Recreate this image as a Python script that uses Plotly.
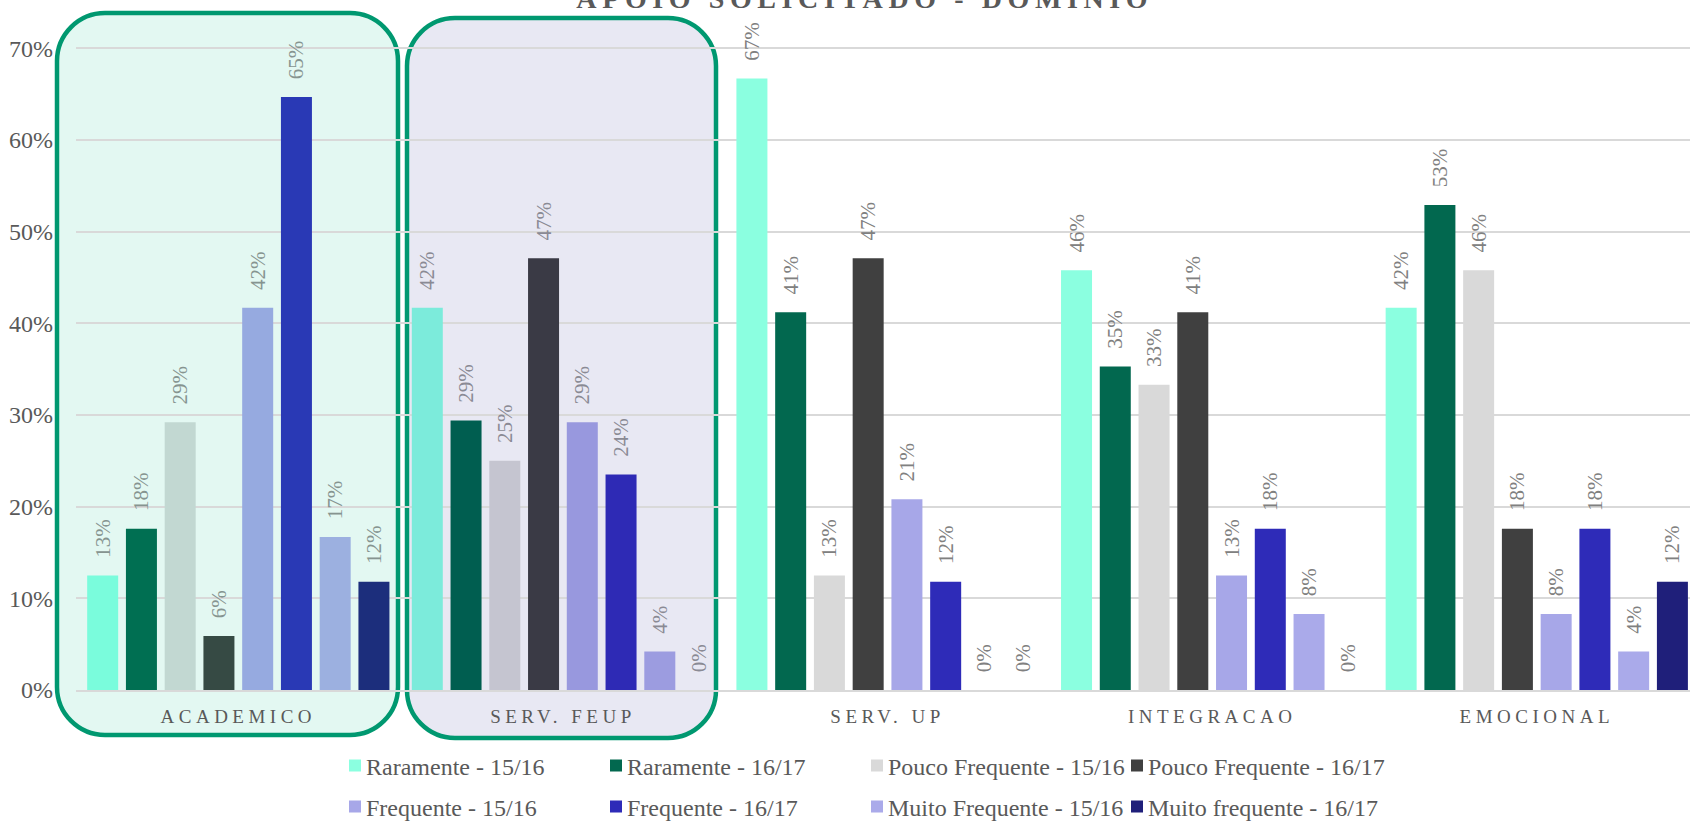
import plotly.graph_objects as go

categories = ["ACADEMICO", "SERV. FEUP", "SERV. UP", "INTEGRACAO", "EMOCIONAL"]
series_names = ["Raramente - 15/16", "Raramente - 16/17", "Pouco Frequente - 15/16", "Pouco Frequente - 16/17",
                "Frequente - 15/16", "Frequente - 16/17", "Muito Frequente - 15/16", "Muito frequente - 16/17"]

raramente_1516 = [0.125, 0.417, 0.667, 0.458, 0.417]
raramente_1617 = [0.176, 0.294, 0.412, 0.353, 0.529]
pouco_1516 = [0.292, 0.250, 0.125, 0.333, 0.458]
pouco_1617 = [0.059, 0.471, 0.471, 0.412, 0.176]
frequente_1516 = [0.417, 0.292, 0.208, 0.125, 0.083]
frequente_1617 = [0.647, 0.235, 0.118, 0.176, 0.176]
muito_1516 = [0.167, 0.042, 0.0, 0.083, 0.042]
muito_1617 = [0.118, 0.0, 0.0, 0.0, 0.118]

series_values = [raramente_1516, raramente_1617, pouco_1516, pouco_1617,
                 frequente_1516, frequente_1617, muito_1516, muito_1617]

base_colors = ["#8bffe0", "#02684f", "#d9d9d9", "#404040", "#a7a7e8", "#2e2bb8", "#aaaaea", "#1f1f7a"]
box1_colors = ["#7afcdc", "#006f52", "#c2d8d2", "#364a44", "#96aae0", "#2939b5", "#9cb0e0", "#1c2e7c"]
box2_colors = ["#7cebdb", "#005e50", "#c5c5d0", "#3a3a45", "#9898de", "#2e2ab5", "#9c9ce0", "#26266e"]

FONT = "Liberation Serif"
GREY = "#595959"
PAD = "\u00a0\u00a0\u2009"  # visual gap between bar top and rotated label

L, T, W, H = 76, 30, 1614, 660

fig = go.Figure()
for i, (name, vals) in enumerate(zip(series_names, series_values)):
    colors = [box1_colors[i], box2_colors[i]] + [base_colors[i]] * 3
    label_colors = ["#869490", "#8a8a94", "#808080", "#808080", "#808080"]
    fig.add_trace(go.Bar(
        name=name, x=categories, y=vals,
        marker=dict(color=colors, line=dict(width=0)),
        text=[f"{PAD}{int(v * 100 + 0.5)}%" for v in vals],
        textposition="outside", textangle=-90,
        outsidetextfont=dict(family=FONT, size=21, color=label_colors),
        constraintext="none", cliponaxis=False,
        showlegend=False, hoverinfo="skip",
    ))

# legend: one small legend per entry, laid out in a 4 x 2 grid
col_text_x = [367, 628, 889, 1149]
row_y = [766, 807]
legend_layouts = {}
for i, name in enumerate(series_names):
    key = "legend" if i == 0 else f"legend{i + 1}"
    c, r = i % 4, i // 4
    fig.add_trace(go.Scatter(
        name=name, x=[None], y=[None], mode="markers",
        marker=dict(symbol="square", size=12, color=base_colors[i]),
        legend=key, showlegend=True, hoverinfo="skip",
    ))
    legend_layouts[key] = dict(
        orientation="h", x=(col_text_x[c] - 41 - L) / W, xanchor="left",
        y=(T + H - row_y[r]) / H, yanchor="middle",
        font=dict(family=FONT, size=24, color=GREY), itemwidth=30,
        bgcolor="rgba(0,0,0,0)",
    )

# rounded highlight boxes (paper coordinates of the plot area)
def px2paper(x, y):
    return (x - L) / W, (T + H - y) / H

def rounded(x0p, y0p, x1p, y1p, r=48):
    k = 0.5523
    x0, yb = px2paper(x0p, y1p)
    x1, yt = px2paper(x1p, y0p)
    rx, ry = r / W, r / H
    p = (f"M{x0+rx},{yt} L{x1-rx},{yt} C{x1-rx+k*rx},{yt} {x1},{yt-ry+k*ry} {x1},{yt-ry} "
         f"L{x1},{yb+ry} C{x1},{yb+ry-k*ry} {x1-rx+k*rx},{yb} {x1-rx},{yb} "
         f"L{x0+rx},{yb} C{x0+rx-k*rx},{yb} {x0},{yb+ry-k*ry} {x0},{yb+ry} "
         f"L{x0},{yt-ry} C{x0},{yt-ry+k*ry} {x0+rx-k*rx},{yt} {x0+rx},{yt} Z")
    return p

for (box, fill) in [((57, 13, 398, 735), "#e3f8f2"), ((407, 18, 716, 738), "#e8e8f3")]:
    fig.add_shape(type="path", path=rounded(*box), xref="paper", yref="paper",
                  fillcolor=fill, line=dict(color="#009870", width=4.5), layer="below")

fig.update_layout(
    width=1690, height=821,
    margin=dict(l=L, r=0, t=T, b=821 - T - H, autoexpand=False),
    paper_bgcolor="white", plot_bgcolor="rgba(0,0,0,0)",
    barmode="group", bargap=0.045, bargroupgap=0.2,
    title=dict(text="<b>APOIO SOLICITADO - DOMINIO</b>", x=0.4887, xref="paper", xanchor="center",
               y=1 - 7.5 / 821, yref="container", yanchor="bottom",
               font=dict(family=FONT, size=28, color=GREY)),
    font=dict(family=FONT, color=GREY),
    xaxis=dict(range=[-0.5, 4.472], showgrid=False, showline=True, linecolor="#d9d9d9", linewidth=1.5,
               ticks="", tickfont=dict(family=FONT, size=19, color=GREY), ticklabelstandoff=8,
               automargin=False, fixedrange=True),
    yaxis=dict(range=[0, 0.72], dtick=0.1, tickformat=".0%", showgrid=True, gridcolor="#d9d9d9",
               gridwidth=1.5, zeroline=False, showline=False, ticks="",
               tickfont=dict(family=FONT, size=24, color=GREY), ticklabelstandoff=22,
               automargin=False, fixedrange=True),
    **legend_layouts,
)

post = """
document.documentElement.style.margin='0';
document.body.style.margin='0';
document.body.style.overflow='hidden';
function ls(){
 document.querySelectorAll('.xtick text').forEach(function(t){t.setAttribute('letter-spacing','4.5px');});
 document.querySelectorAll('.gtitle').forEach(function(t){t.setAttribute('letter-spacing','5.6px');});
 document.querySelectorAll('.legendsymbols').forEach(function(g){g.setAttribute('transform','translate(9,0)');});
}
ls(); setTimeout(ls, 300);
"""
fig.write_html("out.html", post_script=post, config={"displayModeBar": False})
